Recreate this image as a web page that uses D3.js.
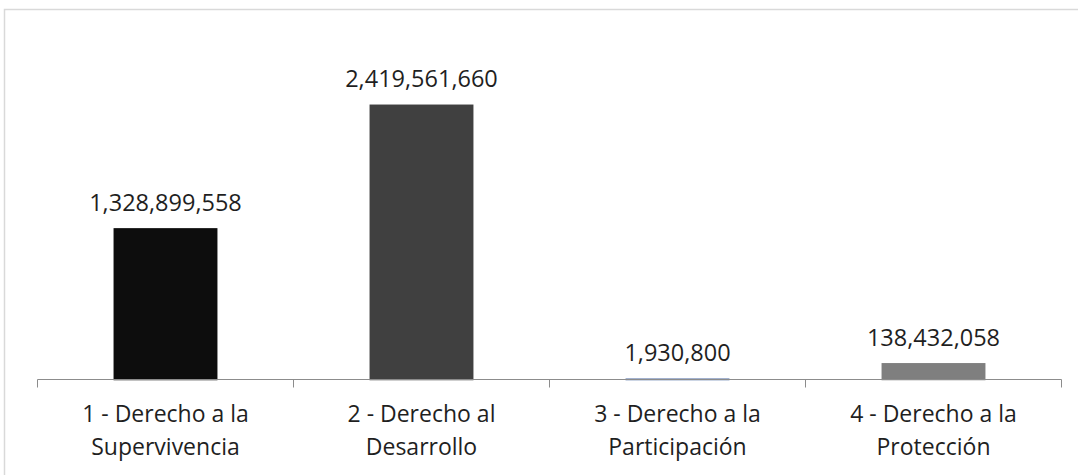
<!DOCTYPE html>
<html>
<head>
<meta charset="utf-8">
<script src="https://cdn.jsdelivr.net/npm/d3@7"></script>
<style>
  body { margin: 0; background: #fff; }
  svg { display: block; }
</style>
</head>
<body>
<div id="chart"></div>
<script>
// data
var categories = ["1 - Derecho a la|Supervivencia", "2 - Derecho al|Desarrollo",
                  "3 - Derecho a la|Participación", "4 - Derecho a la|Protección"];
var values = [1328899558, 2419561660, 1930800, 138432058];
var barColors = ["#0d0d0d", "#404040", "#3b5b98", "#7f7f7f"];

var width = 1078, height = 475;
var margin = {top: 39.5, left: 37.5, right: 16.5, bottom: 95.5};

var svg = d3.select("#chart").append("svg")
    .attr("width", width)
    .attr("height", height);

// chart frame (only top and left edges are inside the window)
svg.append("rect")
    .attr("x", 4.5).attr("y", 9.5)
    .attr("width", width + 20).attr("height", height + 20)
    .attr("fill", "none")
    .attr("stroke", "#d9d9d9")
    .attr("stroke-width", 1.5);

var x = d3.scaleBand()
    .domain(categories)
    .range([margin.left, width - margin.right])
    .paddingInner(0.6)
    .paddingOuter(0.3);

// the band used for ticks (full category width)
var xCat = d3.scaleBand()
    .domain(categories)
    .range([margin.left, width - margin.right]);

var y = d3.scaleLinear()
    .domain([0, 3000000000])
    .range([height - margin.bottom, margin.top]);

var base = y(0);

svg.selectAll("rect.bar")
    .data(values)
    .enter().append("rect")
    .attr("class", "bar")
    .attr("x", function(d, i) { return x(categories[i]); })
    .attr("y", function(d) { return y(d); })
    .attr("width", x.bandwidth())
    .attr("height", function(d) { return base - y(d); })
    .attr("fill", function(d, i) { return barColors[i]; })
    .attr("stroke", function(d, i) { return barColors[i]; })
    .attr("stroke-width", 1.5);

// axis line + ticks between categories
var axisG = svg.append("g");
axisG.append("line")
    .attr("x1", margin.left).attr("x2", width - margin.right)
    .attr("y1", base).attr("y2", base)
    .attr("stroke", "#8c8c8c").attr("stroke-width", 1);

var tickPos = categories.map(function(c) { return xCat(c); });
tickPos.push(width - margin.right);
axisG.selectAll("line.tick")
    .data(tickPos)
    .enter().append("line")
    .attr("class", "tick")
    .attr("x1", function(d) { return d; }).attr("x2", function(d) { return d; })
    .attr("y1", base).attr("y2", base + 8)
    .attr("stroke", "#8c8c8c").attr("stroke-width", 1);

var fmt = d3.format(",");

svg.selectAll("text.val")
    .data(values)
    .enter().append("text")
    .attr("class", "val")
    .attr("x", function(d, i) { return x(categories[i]) + x.bandwidth() / 2; })
    .attr("y", function(d) { return y(d) - 18; })
    .attr("text-anchor", "middle")
    .style("font-family", "'Open Sans', sans-serif")
    .style("font-size", "23.5px")
    .style("fill", "#1f1f1f")
    .text(function(d) { return fmt(d); });

var catText = svg.selectAll("text.cat")
    .data(categories)
    .enter().append("text")
    .attr("class", "cat")
    .attr("text-anchor", "middle")
    .style("font-family", "'Open Sans', sans-serif")
    .style("font-size", "23px")
    .style("fill", "#1f1f1f");

catText.each(function(c) {
    var lines = c.split("|");
    var t = d3.select(this);
    lines.forEach(function(l, j) {
        t.append("tspan")
            .attr("x", xCat(c) + xCat.bandwidth() / 2)
            .attr("y", 421.5 + j * 33.5)
            .text(l);
    });
});
</script>
</body>
</html>
